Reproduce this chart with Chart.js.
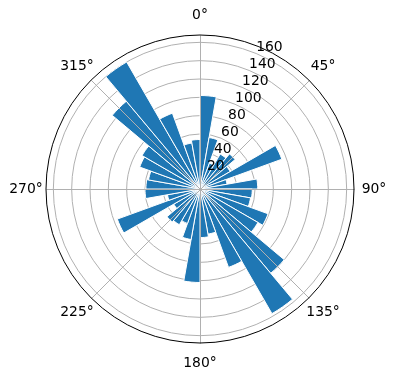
<!DOCTYPE html>
<html>
<head>
<meta charset="utf-8">
<script src="https://cdn.jsdelivr.net/npm/chart.js@4.4.1/dist/chart.umd.min.js"></script>
<style>
  html, body { margin: 0; background: #fff; }
  #wrap { width: 396px; height: 380px; }
</style>
</head>
<body>
<div id="wrap"><canvas id="chart"></canvas></div>
<script>
// bins: start angle in degrees, clockwise from north, each 10 deg wide
const binStarts = [0, 10, 20, 30, 40, 50, 60, 70, 80, 90, 100, 110,
                   120, 130, 140, 150, 160, 170, 180, 190, 200, 210, 220, 230,
                   240, 250, 260, 270, 280, 290, 300, 310, 320, 330, 340, 350];
const counts = [102, 57, 30, 44, 50, 38, 95, 30, 63, 57, 56, 79,
                73, 120, 157, 91, 50, 53, 102, 56, 40, 45, 47, 33,
                96, 36, 60, 59, 57, 70, 73, 125, 160, 88, 51, 54];
const rTicks = [20, 40, 60, 80, 100, 120, 140, 160];
const thetaTicks = [0, 45, 90, 135, 180, 225, 270, 315];
const rMax = 168;

const FONT = '13.9px "DejaVu Sans", sans-serif';
const GRID = '#b0b0b0';

// spokes, outer ring and the tick labels (matplotlib polar look)
const polarFrame = {
    id: 'polarFrame',
    afterDatasetsDraw(chart) {
        const s = chart.scales.r, ctx = chart.ctx;
        const cx = s.xCenter, cy = s.yCenter, R = s.drawingArea;
        ctx.save();
        ctx.strokeStyle = GRID; ctx.lineWidth = 1;
        thetaTicks.forEach(t => {
            const a = t * Math.PI / 180;
            ctx.beginPath();
            ctx.moveTo(cx + 0.5, cy + 0.5);
            ctx.lineTo(cx + 0.5 + R * Math.sin(a), cy + 0.5 - R * Math.cos(a));
            ctx.stroke();
        });
        ctx.restore();
    },
    afterDraw(chart) {
        const s = chart.scales.r, ctx = chart.ctx;
        const cx = s.xCenter, cy = s.yCenter, R = s.drawingArea;
        ctx.save();
        // outer frame
        ctx.beginPath(); ctx.arc(cx, cy, R, 0, Math.PI * 2);
        ctx.strokeStyle = '#000'; ctx.lineWidth = 1; ctx.stroke();

        ctx.font = FONT; ctx.fillStyle = '#000';
        // theta labels
        ctx.textAlign = 'center'; ctx.textBaseline = 'middle';
        thetaTicks.forEach(t => {
            const a = t * Math.PI / 180, d = R + 20;
            ctx.fillText(t + '\u00B0', cx + d * Math.sin(a), cy - d * Math.cos(a));
        });
        // r labels along 22.5 deg
        const ra = 22.5 * Math.PI / 180;
        ctx.textAlign = 'left'; ctx.textBaseline = 'bottom';
        rTicks.forEach(v => {
            const d = s.getDistanceFromCenterForValue(v);
            ctx.fillText(String(v), cx + d * Math.sin(ra), cy - d * Math.cos(ra) + 1);
        });
        ctx.restore();
    }
};

new Chart(document.getElementById('chart'), {
    type: 'polarArea',
    data: {
        labels: binStarts,
        datasets: [{
            data: counts,
            backgroundColor: '#1f77b4',
            borderColor: '#ffffff',
            borderWidth: 1
        }]
    },
    options: {
        responsive: true, maintainAspectRatio: false,
        animation: false,
        layout: { padding: { left: 46, right: 42, top: 35, bottom: 37 } },
        plugins: { legend: { display: false }, tooltip: { enabled: false } },
        scales: {
            r: {
                min: 0, max: rMax, bounds: 'data',
                afterBuildTicks: (sc) => { sc.ticks = [0, ...rTicks].map(v => ({ value: v })); },
                ticks: { display: false, z: 1 },
                grid: { color: GRID, lineWidth: 1, circular: true },
                angleLines: { display: false },
                pointLabels: { display: false }
            }
        }
    },
    plugins: [polarFrame]
});
</script>
</body>
</html>
